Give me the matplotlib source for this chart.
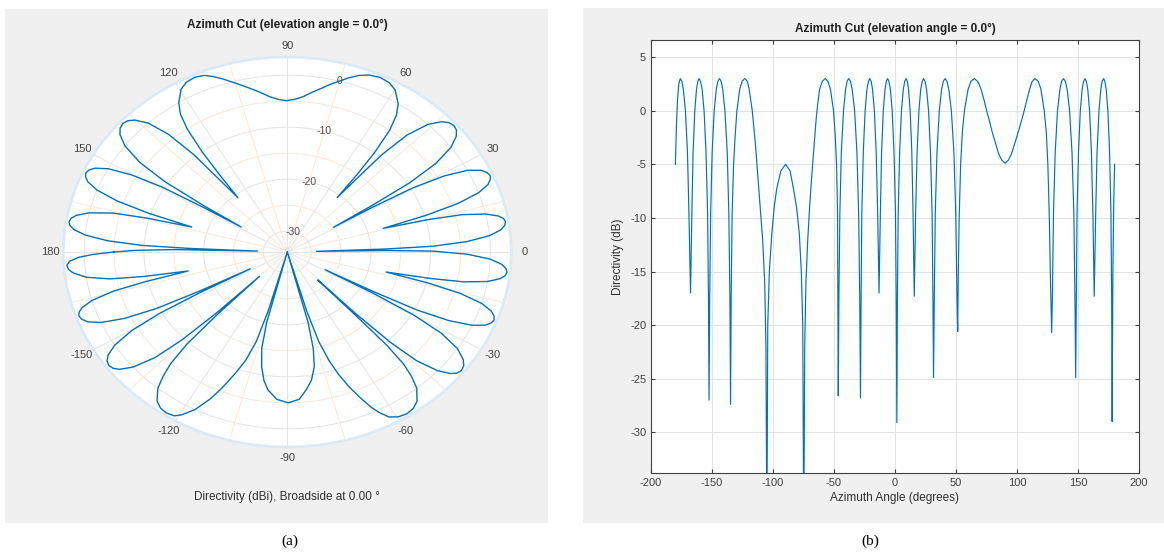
import numpy as np
import matplotlib
matplotlib.use("Agg")
import matplotlib.pyplot as plt
from matplotlib.patches import Rectangle

# ---------------- data ----------------
azimuth_deg = [
    -180, -179.2, -178.3, -177.2, -176,
    -174.7, -173.5, -171.8, -170.1, -168.9, -167.6,
    -166.5, -165.5, -164.1, -162.7, -161.6, -160.6,
    -159.4, -158.1, -156.5, -154.9, -153.6, -152.9, -152.4,
    -151.9, -151.1, -149.9, -148.2, -146.5, -145.2, -143.9,
    -142.5, -141.2, -139.4, -137.5, -136.2, -135.3, -134.8,
    -134.3, -133.5, -132.3, -131.0, -129.6, -127.3, -125.3, -123.2,
    -121.0, -119.5, -117.0, -114.5, -112.8, -110.5, -108.5, -106.8, -105.8, -105.0,
    -104.3, -103.0, -101.0, -99.0, -97.0, -93.5, -89.7, -86.0, -83.2, -80.7, -78.4, -76.8, -75.6, -74.8,
    -74.0, -73.0, -71.5, -70.0, -68.2, -66.5, -64.8, -63.5, -61.8, -59.6, -57.2,
    -55.0, -52.9, -50.4, -49.0, -47.9, -47.1, -46.8, -46.5,
    -46.0, -45.2, -44.0, -42.2, -40.5, -39.3, -38.0,
    -36.5, -35.1, -33.1, -31.2, -29.8, -28.9, -28.3,
    -27.8, -27.2, -26.0, -24.5, -23.0, -21.8, -20.7,
    -19.6, -18.4, -16.9, -15.4, -14.2, -13.1,
    -12.0, -11.0, -9.6, -8.2, -7.1, -6.1,
    -5.0, -3.8, -2.3, -0.8, 0.4, 1.0, 1.5,
    2.0, 2.6, 3.8, 5.3, 6.8, 8.0, 9.1,
    10.1, 11.1, 12.4, 13.8, 14.8, 15.8,
    16.9, 18.1, 19.6, 21.1, 22.3, 23.4,
    24.6, 25.9, 27.5, 29.1, 30.4, 31.1, 31.6,
    32.2, 33.0, 34.4, 36.3, 38.2, 39.6, 41.0,
    42.6, 44.1, 46.2, 48.3, 49.8, 50.8, 51.4,
    51.9, 52.6, 53.8, 55.2, 56.9, 59.9, 62.3, 65.1,
    68.0, 70.6, 73.0, 75.1, 77.5, 79.7, 82.3, 84.9, 87.5, 90.3,
    93.0, 95.6, 98.3, 101.0, 103.5, 105.9, 108.0, 110.3, 112.3, 114.7,
    117.4, 119.6, 122.3, 124.0, 125.3, 126.5, 127.3, 128.4,
    129.0, 129.9, 131.3, 133.2, 135.2, 136.6, 138.1,
    139.6, 141.1, 143.1, 145.1, 146.6, 147.5, 148.1,
    148.6, 149.2, 150.4, 151.9, 153.4, 154.6, 155.7,
    156.8, 158.0, 159.5, 161.0, 162.2, 163.3,
    164.5, 165.6, 167.2, 168.7, 169.8, 171.0,
    172.0, 173.1, 174.5, 175.9, 177.0, 177.6, 178.0,
    178.6, 179.3, 180.0,
]

directivity_db = [
    -5, -1.5, 1.0, 2.5, 3,
    2.75, 2.0, 0, -3.9, -9.6, -17,
    -9.6, -3.9, 0, 2.0, 2.75, 3,
    2.75, 2.0, 0, -3.9, -9.6, -17.5, -27,
    -17.5, -9.6, -3.9, 0, 2.0, 2.75, 3,
    2.75, 2.0, 0, -3.9, -9.6, -17.5, -27.4,
    -17.5, -9.6, -5, -2.3, 0, 2, 2.75, 3,
    2.75, 2, 0, -3, -5.5, -9, -12, -16, -22, -40,
    -20, -15, -11.5, -9, -7.3, -5.6, -5, -5.6, -7.3, -9, -11.5, -15, -20, -40,
    -22, -16, -12, -9, -6, -3.5, -1, 0.5, 2, 2.75, 3,
    2.75, 2, 0, -2.3, -5, -9.6, -17.5, -26.6,
    -17.5, -9.6, -3.9, 0, 2, 2.75, 3,
    2.75, 2, 0, -3.9, -9.6, -17.5, -26.8,
    -17.5, -9.6, -3.9, 0, 2, 2.75, 3,
    2.75, 2, 0, -3.9, -9.6, -17,
    -9.6, -3.9, 0, 2, 2.75, 3,
    2.75, 2, 0, -3.9, -9.6, -17.5, -29.1,
    -17.5, -9.6, -3.9, 0, 2, 2.75, 3,
    2.75, 2, 0, -3.9, -9.6, -17.3,
    -9.6, -3.9, 0, 2, 2.75, 3,
    2.75, 2, 0, -3.9, -9.6, -17.5, -24.9,
    -17.5, -9.6, -3.9, 0, 2, 2.75, 3,
    2.75, 2, 0, -3.9, -9.6, -17.5, -20.6,
    -15, -10, -5, -2, 0, 2, 2.75, 3,
    2.7, 2, 1, 0, -1, -2, -3, -4, -4.6, -4.9,
    -4.6, -4, -3, -2, -1, 0, 1, 2, 2.7, 3,
    2.75, 2, 0, -2, -5, -10, -15, -20.7,
    -17.5, -9.6, -3.9, 0, 2, 2.75, 3,
    2.75, 2, 0, -3.9, -9.6, -17.5, -24.9,
    -17.5, -9.6, -3.9, 0, 2, 2.75, 3,
    2.75, 2, 0, -3.9, -9.6, -17.3,
    -9.6, -3.9, 0, 2, 2.75, 3,
    2.75, 2, 0, -3.9, -9.6, -17.5, -29,
    -15, -8.5, -5,
]

polar_angle_ticks = [0, 30, 60, 90, 120, 150, 180, -150, -120, -90, -60, -30]
polar_ring_ticks = [0, -10, -20, -30]
x_ticks = [-200, -150, -100, -50, 0, 50, 100, 150, 200]
y_ticks = [-30, -25, -20, -15, -10, -5, 0, 5]

title_text = "Azimuth Cut (elevation angle = 0.0°)"
polar_caption = "Directivity (dBi), Broadside at 0.00 °"

# ---------------- figure ----------------
W, H = 1164, 555
plt.rcParams["font.family"] = ["Liberation Sans", "DejaVu Sans"]
plt.rcParams["axes.unicode_minus"] = False
fig = plt.figure(figsize=(W / 100, H / 100), dpi=100, facecolor="white")

def fx(px):
    return px / W

def fy(py):
    return 1 - py / H

panel_col = "#f0f0f0"
for (x0, y0, x1, y1) in [(5, 9, 548, 523), (583, 8, 1164, 523)]:
    r = Rectangle((fx(x0), fy(y1)), (x1 - x0) / W, (y1 - y0) / H,
                  transform=fig.transFigure, facecolor=panel_col,
                  edgecolor="none", zorder=-10)
    fig.add_artist(r)

line_col = "#0072BD"
az = np.array(azimuth_deg)
db = np.array(directivity_db)

# ---------------- (a) polar ----------------
rmin, rmax = -34, 3.5
cx, cy, rx, ry = 287.3, 252, 224, 195
axp = fig.add_axes([fx(cx - rx), fy(cy + ry), 2 * rx / W, 2 * ry / H], projection="polar")
axp.set_zorder(1)
axp.set_aspect("auto")
axp.set_facecolor("white")
axp.set_ylim(rmin, rmax)
axp.grid(False)
axp.set_xticks([])
axp.set_yticks([])
axp.spines["polar"].set_color("#dbeaf6")
axp.spines["polar"].set_linewidth(2.0)

grid_gray = "#e4e4e4"
grid_peach = "#f9e7da"
tfull = np.linspace(0, 2 * np.pi, 361)
for lv in [-5, -15, -25]:
    axp.plot(tfull, np.full_like(tfull, lv), color=grid_peach, lw=0.7, zorder=1)
for lv in polar_ring_ticks:
    axp.plot(tfull, np.full_like(tfull, lv), color=grid_gray, lw=0.7, zorder=1)
for a in range(15, 360, 30):
    axp.plot([np.deg2rad(a)] * 2, [rmin, rmax], color=grid_peach, lw=0.7, zorder=1)
for a in range(0, 360, 30):
    axp.plot([np.deg2rad(a)] * 2, [rmin, rmax], color=grid_gray, lw=0.7, zorder=1)

axp.plot(np.deg2rad(az), np.clip(db, rmin, None), color=line_col, lw=1.0, zorder=3)

for a in polar_angle_ticks:
    axp.text(np.deg2rad(a), 5.7, str(a), ha="center", va="center",
             fontsize=8, color="#404040")
for lv in polar_ring_ticks:
    axp.text(np.deg2rad(75), lv, str(lv), ha="center", va="center",
             fontsize=7.5, color="#505050", zorder=4)

fig.text(fx(287), fy(25), title_text, ha="center", va="center",
         fontsize=8.5, fontweight="bold", color="#202020")
fig.text(fx(287), fy(497), polar_caption, ha="center", va="center",
         fontsize=8.5, color="#303030")

# ---------------- (b) cartesian ----------------
ax = fig.add_axes([fx(651), fy(473), (1139 - 651) / W, (473 - 40) / H])
ax.set_zorder(1)
ax.set_facecolor("white")
ax.plot(az, db, color=line_col, lw=0.85)
ax.set_xlim(-200, 200)
ax.set_ylim(-33.8, 6.6)
ax.set_xticks(x_ticks)
ax.set_yticks(y_ticks)
ax.grid(True, color="#e3e3e3", lw=0.7)
ax.set_axisbelow(True)
ax.tick_params(direction="in", top=True, right=True, labelsize=8,
               colors="#404040", length=3)
for s in ax.spines.values():
    s.set_color("#404040")
    s.set_linewidth(0.8)
ax.set_xlabel("Azimuth Angle (degrees)", fontsize=8.5, color="#303030", labelpad=3)
ax.set_ylabel("Directivity (dB)", fontsize=8.5, color="#303030", labelpad=4)
ax.set_title(title_text, fontsize=8.5, fontweight="bold", color="#202020", pad=6)

# panel labels
fig.text(fx(290), fy(541), "(a)", ha="center", va="center", fontsize=11,
         family=["Liberation Serif", "DejaVu Serif"])
fig.text(fx(870), fy(541), "(b)", ha="center", va="center", fontsize=11,
         family=["Liberation Serif", "DejaVu Serif"])

fig.savefig("out.png", dpi=100, facecolor="white")
